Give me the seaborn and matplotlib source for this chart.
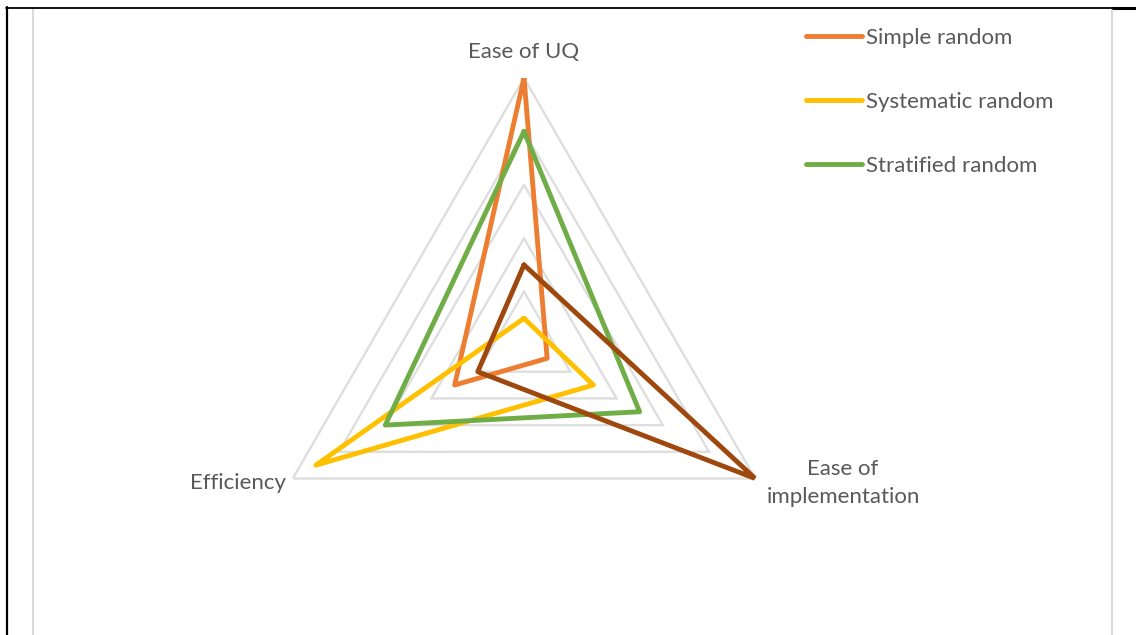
import numpy as np
import pandas as pd
import matplotlib
matplotlib.use("Agg")
import matplotlib.pyplot as plt
from matplotlib.lines import Line2D
import seaborn as sns

# Radar chart data (scores on a 0-5 scale)
categories = ["Ease of UQ", "Ease of implementation", "Efficiency"]
axis_labels = ["Ease of UQ", "Ease of\nimplementation", "Efficiency"]
series_names = ["Simple random", "Systematic random", "Stratified random", "Cluster random"]
simple_random = [5.0, 0.5, 1.5]
systematic_random = [0.5, 1.5, 4.5]
stratified_random = [4.0, 2.5, 3.0]
cluster_random = [1.5, 5.0, 1.0]
series_values = [simple_random, systematic_random, stratified_random, cluster_random]
colors = ["#ED7D31", "#FFC000", "#70AD47", "#9E480E"]
grid_levels = [1, 2, 3, 4, 5]
r_max = 5

sns.set_theme(style="white")
plt.rcParams["font.family"] = ["Lato", "DejaVu Sans"]
text_color = "#595959"

n = len(categories)
angles = np.arange(n) * 2 * np.pi / n
closed_angles = np.append(angles, angles[0] + 2 * np.pi)

rows = []
for name, vals in zip(series_names, series_values):
    closed_vals = list(vals) + [vals[0]]
    for order, (t, v) in enumerate(zip(closed_angles, closed_vals)):
        rows.append({"series": name, "theta": t, "value": v, "order": order})
df = pd.DataFrame(rows)

W, H, DPI = 1136, 635, 100
fig = plt.figure(figsize=(W / DPI, H / DPI), dpi=DPI)
fig.patch.set_facecolor("white")

cx, cy, rad = 524, 345, 267
ax = fig.add_axes([(cx - rad) / W, (H - cy - rad) / H, 2 * rad / W, 2 * rad / H],
                  projection="polar")
ax.set_theta_offset(np.pi / 2)
ax.set_theta_direction(-1)
ax.set_ylim(0, r_max)
ax.grid(False)
ax.spines["polar"].set_visible(False)
ax.patch.set_alpha(0)

# Triangular grid
for lvl in grid_levels:
    ax.plot(closed_angles, [lvl] * len(closed_angles), color="#DEDEDE", lw=1.7,
            zorder=1, solid_joinstyle="miter")

line_w = 3.5
sns.lineplot(data=df, x="theta", y="value", hue="series", hue_order=series_names,
             palette=colors, sort=False, estimator=None, units="series",
             lw=line_w, ax=ax, legend=True, zorder=3)
for ln in ax.get_lines()[len(grid_levels):]:
    ln.set_solid_joinstyle("round")
    ln.set_solid_capstyle("round")
if ax.get_legend() is not None:
    ax.get_legend().remove()
ax.set_xlabel("")
ax.set_ylabel("")
ax.set_xticks([])
ax.set_yticks([])
ax.set_ylim(0, r_max)

# Category labels
fs = 16
fig.text(524 / W, 1 - 52 / H, axis_labels[0], ha="center", va="center",
         fontsize=fs, color=text_color)
fig.text(843 / W, 1 - 483 / H, axis_labels[1], ha="center", va="center",
         fontsize=fs, color=text_color, linespacing=1.55)
fig.text(286 / W, 1 - 483 / H, axis_labels[2], ha="right", va="center",
         fontsize=fs, color=text_color)

# Legend (first three series)
leg_h = [Line2D([0], [0], color=c, lw=line_w, solid_capstyle="round") for c in colors[:3]]
leg = fig.legend(leg_h, series_names[:3], loc="upper left",
                 bbox_to_anchor=(806 / W, 1 - 28 / H), frameon=False,
                 fontsize=fs, handlelength=2.5, handletextpad=0.18,
                 labelspacing=1.98, borderpad=0, borderaxespad=0)
for t in leg.get_texts():
    t.set_color(text_color)

# Page and chart-area borders
fig.add_artist(Line2D([33 / W, 33 / W], [0, 1 - 8 / H], color="#D9D9D9", lw=1.5))
fig.add_artist(Line2D([1112 / W, 1112 / W], [0, 1 - 8 / H], color="#D9D9D9", lw=1.5))
fig.add_artist(Line2D([7 / W, 7 / W], [0, 1 - 7 / H], color="black", lw=1.6))
fig.add_artist(Line2D([6 / W, 1113 / W], [1 - 7.5 / H, 1 - 7.5 / H], color="black", lw=1.3))
fig.add_artist(Line2D([1113 / W, 1.0], [1 - 8 / H, 1 - 8 / H], color="black", lw=2.2))

fig.savefig("out.png", dpi=DPI, facecolor="white")
